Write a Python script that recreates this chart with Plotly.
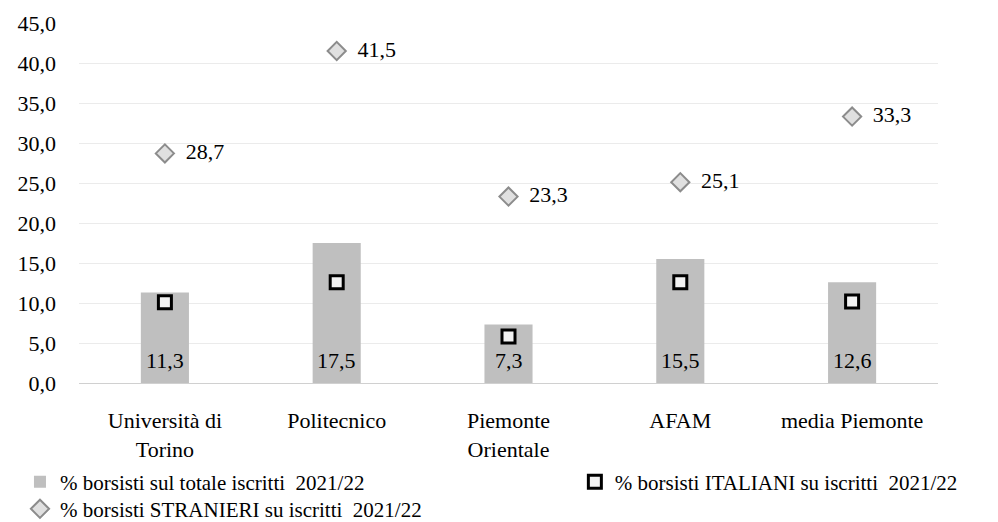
import plotly.graph_objects as go

# categorie e valori
categorie = ["Università di<br>Torino", "Politecnico", "Piemonte<br>Orientale", "AFAM", "media Piemonte"]
totale = [11.3, 17.5, 7.3, 15.5, 12.6]
italiani = [10.1, 12.6, 5.8, 12.6, 10.2]
stranieri = [28.7, 41.5, 23.3, 25.1, 33.3]

fnt = "Liberation Serif, Times New Roman, serif"
def fmt(v):
    return f"{v:.1f}".replace(".", ",")

fig = go.Figure()

fig.add_trace(go.Bar(
    x=categorie, y=totale, name="% borsisti sul totale iscritti  2021/22",
    marker=dict(color="#bfbfbf", line=dict(width=0)), width=0.28,
    legend="legend",
))

fig.add_trace(go.Scatter(
    x=categorie, y=italiani, name="% borsisti ITALIANI su iscritti  2021/22",
    mode="markers",
    marker=dict(symbol="square", size=13, color="#f2f2f2", line=dict(color="black", width=3)),
    legend="legend2",
))

fig.add_trace(go.Scatter(
    x=categorie, y=stranieri, name="% borsisti STRANIERI su iscritti  2021/22",
    mode="markers+text",
    marker=dict(symbol="diamond", size=14, color="#e0e0e0", line=dict(color="#8c8c8c", width=2)),
    text=["  " + fmt(v) for v in stranieri],
    textposition="middle right",
    textfont=dict(family=fnt, size=22, color="black"),
    legend="legend3",
))

# etichette dei valori delle barre, in basso dentro la barra
for c, v in zip(categorie, totale):
    fig.add_annotation(x=c, y=0, text=fmt(v), showarrow=False, yanchor="middle",
                       yshift=23, font=dict(family=fnt, size=22, color="black"))

leg = dict(orientation="h", xref="container", yref="container", xanchor="left",
           yanchor="middle", font=dict(family=fnt, size=21, color="black"),
           bgcolor="rgba(0,0,0,0)", itemwidth=30, tracegroupgap=0)

fig.update_layout(
    width=998, height=522,
    margin=dict(l=71, r=68, t=15, b=147, autoexpand=False),
    plot_bgcolor="white", paper_bgcolor="white",
    separators=",.",
    font=dict(family=fnt, size=22, color="black"),
    showlegend=True,
    legend=dict(leg, x=0.012, y=0.092),
    legend2=dict(leg, x=0.568, y=0.092),
    legend3=dict(leg, x=0.012, y=0.04),
)

fig.update_yaxes(range=[0, 45], dtick=5, tickformat=".1f",
                 showgrid=True, gridcolor="#ebebeb", gridwidth=1,
                 zeroline=False, ticks="", ticklabelstandoff=22,
                 tickfont=dict(family=fnt, size=22, color="black"))
fig.update_xaxes(showline=True, linecolor="#d0d0d0", linewidth=1, ticks="",
                 ticklabelstandoff=18,
                 tickfont=dict(family=fnt, size=22, color="black"))

fig.write_html("out.html")
